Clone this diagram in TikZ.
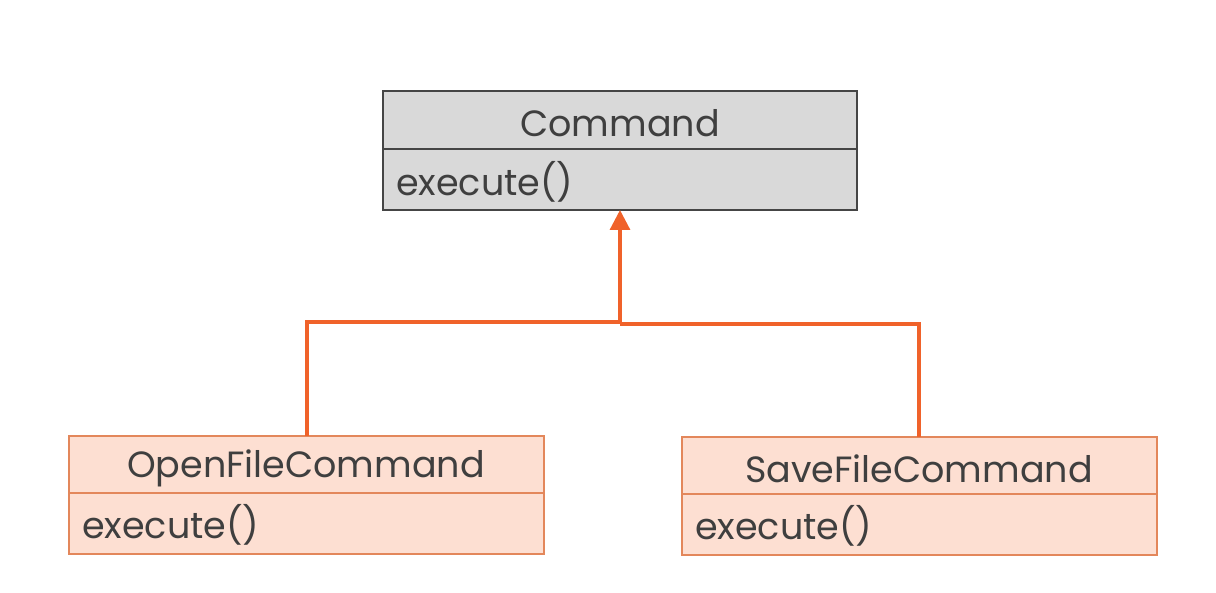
\documentclass[tikz,border=0pt]{standalone}
\usepackage{fontspec}
\setmainfont{Poppins}
\usetikzlibrary{arrows.meta}
\definecolor{txt}{HTML}{3F3F3F}
\definecolor{graybox}{HTML}{D9D9D9}
\definecolor{grayline}{HTML}{454545}
\definecolor{peach}{HTML}{FDDFD2}
\definecolor{peachline}{HTML}{E3875B}
\definecolor{orangeline}{HTML}{F0622A}
\tikzset{
  x=1pt, y=-1pt,
  classtxt/.style={font=\fontsize{36.5}{42}\selectfont, text=txt, inner sep=0pt},
  conn/.style={draw=orangeline, line width=3.2pt},
}
\begin{document}
\begin{tikzpicture}
\useasboundingbox (0,0) rectangle (1216,593);
% Command
\draw[fill=graybox, draw=grayline, line width=1.3pt] (383,91) rectangle (857,210);
\draw[grayline, line width=1.3pt] (383,149) -- (857,149);
\node[classtxt] (cmdname) at (620,123) {Command};
\node[classtxt, anchor=west] (cmdop) at (396,182) {execute()};
\coordinate (cmdbot) at (620,210);
% OpenFileCommand
\draw[fill=peach, draw=peachline, line width=1.3pt] (69,436) rectangle (544,554);
\draw[peachline, line width=1.3pt] (69,493) -- (544,493);
\node[classtxt] (openname) at (306,468) {OpenFileCommand};
\node[classtxt, anchor=west] (openop) at (82,525) {execute()};
\coordinate (opentop) at (307,436);
% SaveFileCommand
\draw[fill=peach, draw=peachline, line width=1.3pt] (682,437) rectangle (1157,555);
\draw[peachline, line width=1.3pt] (682,494) -- (1157,494);
\node[classtxt] (savename) at (919,469) {SaveFileCommand};
\node[classtxt, anchor=west] (saveop) at (695,526) {execute()};
\coordinate (savetop) at (919,437);
% connectors
\draw[conn] (opentop) -- (307,322) -- (620,322);
\draw[conn] (savetop) -- (919,324) -- (620,324);
\draw[conn, -{Triangle[length=20pt,width=20pt]}] (620,324) -- (cmdbot);
\end{tikzpicture}
\end{document}
